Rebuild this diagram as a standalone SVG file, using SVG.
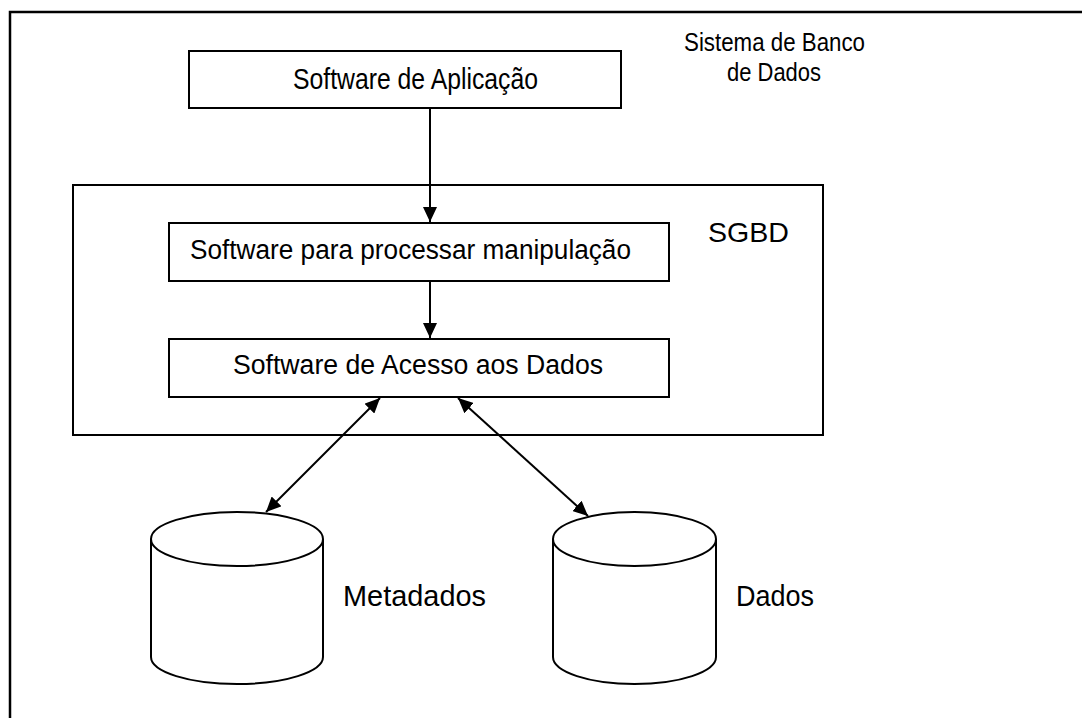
<svg xmlns="http://www.w3.org/2000/svg" width="1082" height="718" viewBox="0 0 1082 718">
<style>
.box{fill:#fff;stroke:#000;stroke-width:2}
.frame{fill:none;stroke:#000;stroke-width:2.5}
.edge{fill:none;stroke:#000;stroke-width:2}
text{font-family:"Liberation Sans",Arial,sans-serif;fill:#000}
</style>
<defs>
<marker id="ah" markerUnits="userSpaceOnUse" markerWidth="16" markerHeight="14" refX="15" refY="7" orient="auto-start-reverse">
<path d="M0,0 L15,7 L0,14 z" fill="#000"/>
</marker>
</defs>
<rect width="1082" height="718" fill="#fff"/>
<g id="sistema">
<rect class="frame" x="10" y="12" width="1090" height="720"/>
<text x="684" y="51" font-size="26" textLength="181" lengthAdjust="spacingAndGlyphs">Sistema de Banco</text>
<text x="727" y="81" font-size="26" textLength="94" lengthAdjust="spacingAndGlyphs">de Dados</text>
</g>
<g id="aplicacao">
<rect class="box" x="189" y="51" width="432" height="57"/>
<text x="293" y="89" font-size="30" textLength="245" lengthAdjust="spacingAndGlyphs">Software de Aplicação</text>
</g>
<g id="sgbd">
<rect class="box" x="73" y="185" width="750" height="250"/>
<text x="708" y="242" font-size="28" textLength="81" lengthAdjust="spacingAndGlyphs">SGBD</text>
</g>
<g id="processar">
<rect class="box" x="169" y="223" width="500" height="58"/>
<text x="190" y="259" font-size="27" textLength="441" lengthAdjust="spacingAndGlyphs">Software para processar manipulação</text>
</g>
<g id="acesso">
<rect class="box" x="169" y="339" width="500" height="58"/>
<text x="233" y="374" font-size="27" textLength="370" lengthAdjust="spacingAndGlyphs">Software de Acesso aos Dados</text>
</g>
<g id="metadados">
<path class="box" d="M151,539 V657 A86,27 0 0 0 323,657 V539"/>
<ellipse class="box" cx="237" cy="539" rx="86" ry="27"/>
<text x="343" y="606" font-size="30" textLength="143" lengthAdjust="spacingAndGlyphs">Metadados</text>
</g>
<g id="dados">
<path class="box" d="M553,539 V657 A81.5,27 0 0 0 716,657 V539"/>
<ellipse class="box" cx="634.5" cy="539" rx="81.5" ry="27"/>
<text x="736" y="606" font-size="30" textLength="78" lengthAdjust="spacingAndGlyphs">Dados</text>
</g>
<g id="connectors">
<line class="edge" x1="430" y1="108" x2="430" y2="222" marker-end="url(#ah)"/>
<line class="edge" x1="430" y1="281" x2="430" y2="338" marker-end="url(#ah)"/>
<line class="edge" x1="266" y1="512" x2="380" y2="398" marker-start="url(#ah)" marker-end="url(#ah)"/>
<line class="edge" x1="458" y1="398" x2="588" y2="516" marker-start="url(#ah)" marker-end="url(#ah)"/>
</g>
</svg>
